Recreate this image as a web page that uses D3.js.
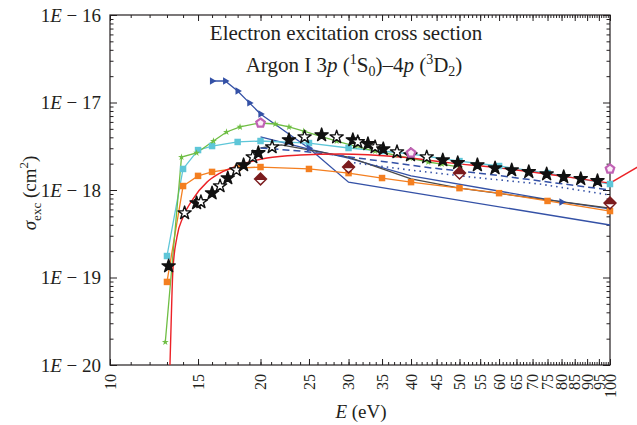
<!DOCTYPE html>
<meta charset="utf-8">
<style>
body { margin:0; background:#fff; }
svg text { font-family: "Liberation Serif", "DejaVu Serif", serif; fill:#231f20; }
.axis line { stroke:#231f20; stroke-width:1; }
.axis path { display:none; }
</style>
<div id="chart"></div>
<script src="https://cdn.jsdelivr.net/npm/d3@7"></script>
<script>

// ---- data (E in eV, sigma in cm^2) ----
var starE = [13.1,14.1,14.9,15.2,16.0,16.6,17.2,17.9,18.5,19.3,19.8,21.1,22.8,24.5,26.5,28.4,30.6,31.3,32.8,33.9,35.2,37.5,39.9,43.0,46.3,49.6,54.3,58.9,63.6,68.8,74.7,80.8,87.4,94.4];
var starS = [1.35e-19,5.46e-19,7.1e-19,7.3e-19,9.2e-19,1.11e-18,1.37e-18,1.69e-18,1.93e-18,2.38e-18,2.65e-18,3.10e-18,3.73e-18,4.03e-18,4.25e-18,4.03e-18,3.73e-18,3.54e-18,3.36e-18,3.10e-18,2.94e-18,2.72e-18,2.51e-18,2.38e-18,2.20e-18,2.04e-18,1.93e-18,1.78e-18,1.69e-18,1.61e-18,1.52e-18,1.41e-18,1.34e-18,1.27e-18];

var greenE = [12.9,13.9,14.9,16.1,17.1,18.2,19.9,21.4,22.8,24.4,26.3,28.4,30.9,33.9,37.2,39.8,43.3,46.1,50.1];
var greenS = [1.83e-20,2.38e-18,2.65e-18,3.63e-18,4.6e-18,5.25e-18,5.83e-18,5.68e-18,5.25e-18,4.72e-18,4.14e-18,3.63e-18,3.18e-18,2.79e-18,2.51e-18,2.32e-18,2.09e-18,1.98e-18,1.83e-18];

var cyanE = [13,14,15,16,18,20,25,30,35,40,50,60,75,100];
var cyanS = [1.76e-19,1.74e-18,2.86e-18,3.18e-18,3.54e-18,3.63e-18,3.44e-18,3.02e-18,2.79e-18,2.58e-18,2.14e-18,1.88e-18,1.56e-18,1.17e-18];

var orangeE = [13,14,15,16,18,20,25,30,35,40,50,60,75,100];
var orangeS = [8.9e-20,1.11e-18,1.45e-18,1.61e-18,1.78e-18,1.83e-18,1.74e-18,1.56e-18,1.37e-18,1.23e-18,1.05e-18,9.2e-19,7.5e-19,5.75e-19];

// red curve, last point runs past 100 eV
var redE = [13.18,13.24,13.36,13.61,14.0,14.65,15.63,16.6,18.2,20.6,24.0,28.8,38.1,47.9,60.3,79.4,100,113.5];
var redS = [1e-20,2.51e-20,1.22e-19,2.9e-19,4.91e-19,7.89e-19,1.23e-18,1.56e-18,1.93e-18,2.32e-18,2.51e-18,2.58e-18,2.38e-18,2.04e-18,1.78e-18,1.45e-18,1.20e-18,1.83e-18];

var triE = [16,17,18,19,20,25,30,100];
var triS = [1.76e-17,1.76e-17,1.35e-17,9.9e-18,7.4e-18,3.0e-18,1.23e-18,3.98e-19];

var blue2E = [20,25,30,40,80,100];
var blue2S = [4.04e-18,2.94e-18,2.32e-18,1.45e-18,7.3e-19,6.07e-19];

var grayE = [20,22,30,40,50,100];
var grayS = [3.02e-18,3.27e-18,2.38e-18,1.34e-18,1.05e-18,6.22e-19];

var dashE = [20,24,29.2,35.8,44.2,56.9,72.4,100];
var dashS = [3.02e-18,2.79e-18,2.45e-18,2.09e-18,1.78e-18,1.52e-18,1.27e-18,1.0e-18];

var dotE = [30,39.8,52.5,72.4,100];
var dotS = [2.09e-18,1.69e-18,1.41e-18,1.17e-18,8.77e-19];

var diamondE = [20,30,50,100];
var diamondS = [1.34e-18,1.83e-18,1.56e-18,7.1e-19];

var pentE = [20,40,100];
var pentS = [5.83e-18,2.65e-18,1.74e-18];

var xMajor = d3.range(10, 101, 5);
var xMinor = d3.range(10, 101, 1);
var yMajor = [1e-20,1e-19,1e-18,1e-17,1e-16];
var yMinor = [];
[-20,-19,-18,-17].forEach(function(p){ d3.range(2,10).forEach(function(k){ yMinor.push(k*Math.pow(10,p)) }) });

// ---- setup ----
var width = 637, height = 425;
var svg = d3.select("#chart").append("svg").attr("width", width).attr("height", height);

var x = d3.scaleLog().domain([10,100]).range([110,610]);
var y = d3.scaleLog().domain([1e-20,1e-16]).range([365,15]);

// axes (ticks inward)
svg.append("g").attr("class","axis").attr("transform","translate(0,365)")
  .call(d3.axisBottom(x).tickValues(xMinor).tickSize(-3).tickFormat(""));
var xb = svg.append("g").attr("class","axis").attr("transform","translate(0,365)")
  .call(d3.axisBottom(x).tickValues(xMajor).tickSize(-6).tickFormat(d3.format("d")));
xb.selectAll("text")
  .attr("transform","rotate(-90)")
  .attr("x",-9).attr("y",0).attr("dy","0.33em")
  .style("text-anchor","end").style("font-size","16px");

svg.append("g").attr("class","axis").attr("transform","translate(0,15)")
  .call(d3.axisTop(x).tickValues(xMinor).tickSize(-3).tickFormat(""));
svg.append("g").attr("class","axis").attr("transform","translate(0,15)")
  .call(d3.axisTop(x).tickValues(xMajor).tickSize(-6).tickFormat(""));

svg.append("g").attr("class","axis").attr("transform","translate(110,0)")
  .call(d3.axisLeft(y).tickValues(yMinor).tickSize(-3.5).tickFormat(""));
var yl = svg.append("g").attr("class","axis").attr("transform","translate(110,0)")
  .call(d3.axisLeft(y).tickValues(yMajor).tickSize(-7).tickFormat(""));
yl.selectAll(".tick").append("text")
  .attr("x",-9).attr("dy","0.34em")
  .style("text-anchor","end").style("font-size","19px")
  .each(function(d){
    var t = d3.select(this);
    t.append("tspan").text("1");
    t.append("tspan").style("font-style","italic").text("E");
    t.append("tspan").text(" \u2212 " + Math.round(-Math.log10(d)));
  });

svg.append("g").attr("class","axis").attr("transform","translate(610,0)")
  .call(d3.axisRight(y).tickValues(yMinor).tickSize(-3.5).tickFormat(""));
svg.append("g").attr("class","axis").attr("transform","translate(610,0)")
  .call(d3.axisRight(y).tickValues(yMajor).tickSize(-7).tickFormat(""));

svg.append("rect").attr("x",110).attr("y",15).attr("width",500).attr("height",350)
  .attr("fill","none").attr("stroke","#231f20").attr("stroke-width",1.2);

// ---- lines ----
var line = d3.line().x(function(d){ return x(d[0]) }).y(function(d){ return y(d[1]) });

function drawLine(E, S, color, w, dash) {
  svg.append("path").datum(d3.zip(E,S))
    .attr("d", line)
    .attr("fill","none").attr("stroke",color).attr("stroke-width",w)
    .attr("stroke-dasharray", dash || null);
}

drawLine(triE, triS, "#3451a6", 1.3);
drawLine(blue2E, blue2S, "#3451a6", 1.3);
drawLine(grayE, grayS, "#4a4a4a", 1.3);
drawLine(dashE, dashS, "#3451a6", 1.5, "7,4");
drawLine(dotE, dotS, "#3451a6", 1.6, "1.5,4");
drawLine(orangeE, orangeS, "#f47f20", 1.3);
drawLine(cyanE, cyanS, "#5ec6d8", 1.3);
drawLine(greenE, greenS, "#6fbe44", 1.3);

var redPts = d3.zip(redE, redS);
svg.append("path").datum(redPts.slice(0,-1))
  .attr("d", d3.line().x(function(d){ return x(d[0]) }).y(function(d){ return y(d[1]) }).curve(d3.curveMonotoneX))
  .attr("fill","none").attr("stroke","#ec2227").attr("stroke-width",1.4);
svg.append("path").datum(redPts.slice(-2))
  .attr("d", line)
  .attr("fill","none").attr("stroke","#ec2227").attr("stroke-width",1.4);

// ---- markers ----
function markers(E, S, sym, size, fill, stroke, sw, rot) {
  return svg.append("g").selectAll("path").data(d3.zip(E,S)).enter().append("path")
    .attr("transform", function(d){ return "translate(" + x(d[0]) + "," + y(d[1]) + ")" + (rot ? " rotate(" + rot + ")" : "") })
    .attr("d", d3.symbol().type(sym).size(size))
    .attr("fill", fill).attr("stroke", stroke).attr("stroke-width", sw);
}

markers(orangeE, orangeS, d3.symbolSquare, 42, "#f47f20", "none", 0);
markers(cyanE, cyanS, d3.symbolSquare, 42, "#5ec6d8", "none", 0);
markers(greenE, greenS, d3.symbolStar, 15, "#6fbe44", "none", 0);
markers(triE.slice(0,6), triS.slice(0,6), d3.symbolTriangle, 24, "#3451a6", "none", 0, 90);
markers(blue2E.slice(4,5), blue2S.slice(4,5), d3.symbolTriangle, 24, "#3451a6", "none", 0, 90);

// experiment stars: alternating open / filled at low energy
svg.append("g").selectAll("path").data(d3.zip(starE, starS)).enter().append("path")
  .attr("transform", function(d){ return "translate(" + x(d[0]) + "," + y(d[1]) + ")" })
  .attr("d", d3.symbol().type(d3.symbolStar).size(54))
  .attr("fill", function(d,i){ return (i % 2 == 1 && d[0] < 45) ? "#fff" : "#111" })
  .attr("stroke","#111").attr("stroke-width",1.4).attr("stroke-linejoin","round");

// diamonds with white inner triangle
var dg = svg.append("g").selectAll("g").data(d3.zip(diamondE, diamondS)).enter().append("g")
  .attr("transform", function(d){ return "translate(" + x(d[0]) + "," + y(d[1]) + ")" });
dg.append("path").attr("d", d3.symbol().type(d3.symbolSquare).size(98)).attr("transform","rotate(45)")
  .attr("fill","#7b1b1d");
dg.append("path").attr("d","M-4,1.2L4,1.2L0,4.8Z").attr("fill","#fff");

// pentagons
var symbolPentagon = {
  draw: function(ctx, size) {
    var r = Math.sqrt(size / 2.378);
    for (var i = 0; i < 5; i++) {
      var a = -Math.PI/2 + i * 2 * Math.PI / 5;
      if (i == 0) ctx.moveTo(r*Math.cos(a), r*Math.sin(a)); else ctx.lineTo(r*Math.cos(a), r*Math.sin(a));
    }
    ctx.closePath();
  }
};
markers(pentE, pentS, symbolPentagon, 48, "#fbeef8", "#c061b4", 2.2);

// ---- titles ----
svg.append("text").attr("x",346).attr("y",40).style("text-anchor","middle").style("font-size","21px")
  .text("Electron excitation cross section");

var t2 = svg.append("text").attr("x",354).attr("y",72).style("text-anchor","middle").style("font-size","21px");
t2.append("tspan").text("Argon I 3");
t2.append("tspan").style("font-style","italic").text("p");
t2.append("tspan").text(" (");
t2.append("tspan").attr("dy",-8).style("font-size","14px").text("1");
t2.append("tspan").attr("dy",8).text("S");
t2.append("tspan").attr("dy",4).style("font-size","14px").text("0");
t2.append("tspan").attr("dy",-4).text(")\u20134");
t2.append("tspan").style("font-style","italic").text("p");
t2.append("tspan").text(" (");
t2.append("tspan").attr("dy",-8).style("font-size","14px").text("3");
t2.append("tspan").attr("dy",8).text("D");
t2.append("tspan").attr("dy",4).style("font-size","14px").text("2");
t2.append("tspan").attr("dy",-4).text(")");

var xt = svg.append("text").attr("x",361).attr("y",418).style("text-anchor","middle").style("font-size","19px");
xt.append("tspan").style("font-style","italic").text("E");
xt.append("tspan").text(" (eV)");

var yt = svg.append("text").attr("transform","translate(36,193) rotate(-90)").style("text-anchor","middle").style("font-size","19px");
yt.append("tspan").style("font-style","italic").text("\u03c3");
yt.append("tspan").attr("dy",5).style("font-size","13px").text("exc");
yt.append("tspan").attr("dy",-5).text(" (cm");
yt.append("tspan").attr("dy",-8).style("font-size","13px").text("2");
yt.append("tspan").attr("dy",8).text(")");

</script>
